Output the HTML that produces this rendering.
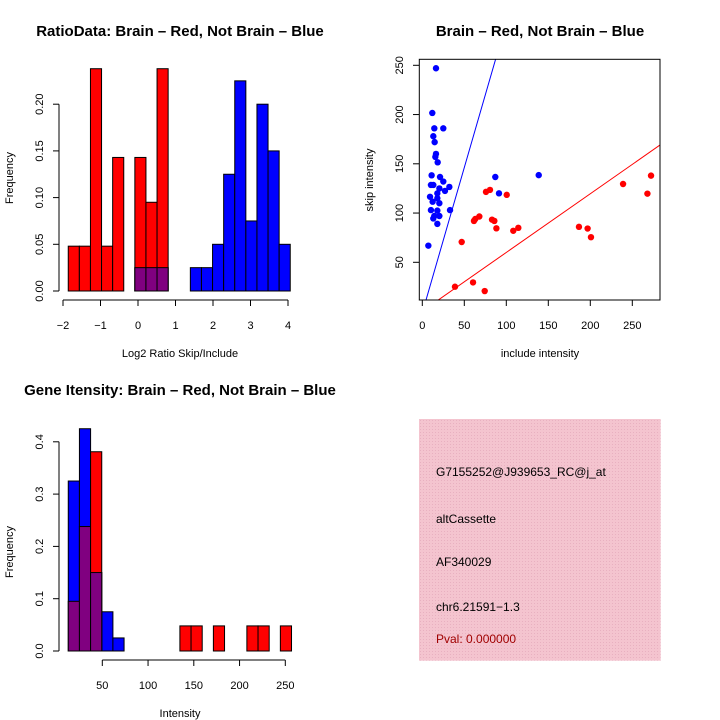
<!DOCTYPE html>
<html><head><meta charset="utf-8"><style>
body{margin:0;background:#fff}
svg{display:block;font-family:"Liberation Sans",sans-serif}
</style></head><body>
<svg id="c" width="720" height="720" xmlns="http://www.w3.org/2000/svg">
<defs><pattern id="hatch" width="3" height="3" patternUnits="userSpaceOnUse"><rect width="3" height="3" fill="#f4c4cf"/><rect width="1" height="1" fill="#e8b0c0"/></pattern></defs>
</svg>
<script>
// ---- Data: ratio histogram ----
const ratioBinStart = -1.86;
const ratioBinWidth = 0.296;
const ratioRed = [0.048,0.048,0.238,0.048,0.143,0,0.143,0.095,0.238];
const ratioBlueOffset = 6;
const ratioBlue = [0.025,0.025,0.025,0,0,0.025,0.025,0.05,0.125,0.225,0.075,0.2,0.15,0.05];
const ratioXTicks = [-2,-1,0,1,2,3,4];
const ratioYTicks = [0,0.05,0.1,0.15,0.2];
// ---- Data: intensity histogram ----
const intBinStart = 12.8;
const intBinWidth = 12.2;
const intRed = [0.095,0.238,0.381,0,0,0,0,0,0,0,0.048,0.048,0,0.048,0,0,0.048,0.048,0,0.048];
const intBlue = [0.325,0.425,0.15,0.075,0.025];
const intXTicks = [50,100,150,200,250];
const intYTicks = [0,0.1,0.2,0.3,0.4];
// ---- Data: scatter ----
const blueX = [16.3,11.9,14.3,25,13.1,14.7,16.3,15.5,18.3,11.1,21.1,25,10.3,13.1,20.3,32.2,27,17.9,9.2,17.9,12.3,20.3,10.3,17.9,33,14.3,20.3,13.1,17.9,7.2,86.9,91.3,138.6];
const blueY = [247,201.6,186,186,178,172,160,157,151.5,138.3,136.6,132,128.5,128.5,125,126.5,122.5,120,116.5,115,111.5,110,103,102.5,103,97,97,94.5,89,66.9,136.6,120,138.5];
const redX = [75.8,80.6,100.5,61.5,63.1,67.9,83,85.8,88.2,108.3,114.3,46.9,38.9,60.4,74.3,186.5,196.8,200.8,239,268,272.3];
const redY = [121.5,123.5,118.5,92,94,96.5,93.3,92,84.5,82,85,70.6,25.2,29.6,20.8,86,84.3,75.5,129.5,119.7,138];
const blueLine = [-1.3,2.95];
const redLine = [0.4,0.596];
const scXTicks = [0,50,100,150,200,250];
const scYTicks = [50,100,150,200,250];

const svg=document.getElementById('c');
const NS='http://www.w3.org/2000/svg';
function mk(tag,attrs,parent){const e=document.createElementNS(NS,tag);for(const k in attrs)e.setAttribute(k,attrs[k]);(parent||svg).appendChild(e);return e;}
function txt(s,x,y,size,opts){opts=opts||{};const e=mk('text',{x:x,y:y,'font-size':size,'text-anchor':opts.anchor||'middle',fill:opts.fill||'#000','font-weight':opts.bold?'bold':'normal'});if(opts.rot)e.setAttribute('transform','rotate(-90 '+x+' '+y+')');e.textContent=s;return e;}

// ===== Panel 1 =====
const rx=v=>63+(v+2)*37.5, ry=v=>291-v*934;
let t=txt('RatioData: Brain – Red, Not Brain – Blue',180,36,15,{bold:true});

ratioBlue.forEach((v,i)=>{if(v<=0)return;const b=ratioBinStart+(i+ratioBlueOffset)*ratioBinWidth;const r=mk('rect',{x:rx(b),y:ry(v),width:rx(b+ratioBinWidth)-rx(b),height:ry(0)-ry(v),fill:'#0000ff',stroke:'#000','stroke-width':1});

});
ratioRed.forEach((v,i)=>{if(v<=0)return;const b=ratioBinStart+i*ratioBinWidth;const bl=(i>=ratioBlueOffset)?ratioBlue[i-ratioBlueOffset]:0;
const r=mk('rect',{x:rx(b),y:ry(v),width:rx(b+ratioBinWidth)-rx(b),height:ry(0)-ry(v),fill:'#ff0000',stroke:'#000','stroke-width':1});


const m=Math.min(v,bl);if(m>0){const p=mk('rect',{x:rx(b),y:ry(m),width:rx(b+ratioBinWidth)-rx(b),height:ry(0)-ry(m),fill:'#800080',stroke:'#000','stroke-width':1});

}});
mk('line',{x1:59,y1:ry(0),x2:59,y2:ry(0.2),stroke:'#000'});
mk('line',{x1:rx(-2),y1:300,x2:rx(4),y2:300,stroke:'#000'});
ratioYTicks.forEach(v=>{mk('line',{x1:53,y1:ry(v),x2:59,y2:ry(v),stroke:'#000'});txt(v.toFixed(2),43,ry(v),11,{rot:true});});
ratioXTicks.forEach(v=>{mk('line',{x1:rx(v),y1:300,x2:rx(v),y2:306,stroke:'#000'});txt(String(v).replace('-','−'),rx(v),329,11);});
txt('Log2 Ratio Skip/Include',180,357,11);
txt('Frequency',13,178,11,{rot:true});

// ===== Panel 2 =====
const sx=v=>422.3+v*0.84, sy=v=>262.3-(v-50)*0.985;
t=txt('Brain – Red, Not Brain – Blue',540,36,15,{bold:true});

const clip=mk('clipPath',{id:'sc'});mk('rect',{x:419.3,y:59.3,width:240.7,height:240.7},clip);
const g=mk('g',{'clip-path':'url(#sc)'});
[[blueLine,'#0000ff'],[redLine,'#ff0000']].forEach(([l,c])=>{const x0=-20,x1=300;mk('line',{x1:sx(x0),y1:sy(l[0]+l[1]*x0),x2:sx(x1),y2:sy(l[0]+l[1]*x1),stroke:c,'stroke-width':1},g);});
blueX.forEach((x,i)=>{const c=mk('circle',{cx:sx(x),cy:sy(blueY[i]),r:3.2,fill:'#0000ff'},g);

});
redX.forEach((x,i)=>{const c=mk('circle',{cx:sx(x),cy:sy(redY[i]),r:3.2,fill:'#ff0000'},g);

});
mk('rect',{x:419.3,y:59.3,width:240.7,height:240.7,fill:'none',stroke:'#000'});
scXTicks.forEach(v=>{mk('line',{x1:sx(v),y1:300,x2:sx(v),y2:306,stroke:'#000'});txt(String(v),sx(v),329,11);});
scYTicks.forEach(v=>{mk('line',{x1:413,y1:sy(v),x2:419.3,y2:sy(v),stroke:'#000'});txt(String(v),403,sy(v),11,{rot:true});});
txt('include intensity',540,357,11);
txt('skip intensity',373,180,11,{rot:true});

// ===== Panel 3 =====
const ix=v=>102.3+(v-50)*0.915, iy=v=>651-v*523;
t=txt('Gene Itensity: Brain – Red, Not Brain – Blue',180,395,15,{bold:true});

intBlue.forEach((v,i)=>{if(v<=0)return;const b=intBinStart+i*intBinWidth;const r=mk('rect',{x:ix(b),y:iy(v),width:ix(b+intBinWidth)-ix(b),height:iy(0)-iy(v),fill:'#0000ff',stroke:'#000'});

});
intRed.forEach((v,i)=>{if(v<=0)return;const b=intBinStart+i*intBinWidth;const bl=intBlue[i]||0;
if(v>bl){const r=mk('rect',{x:ix(b),y:iy(v),width:ix(b+intBinWidth)-ix(b),height:iy(0)-iy(v),fill:'#ff0000',stroke:'#000'});

}
const m=Math.min(v,bl);if(m>0){const p=mk('rect',{x:ix(b),y:iy(m),width:ix(b+intBinWidth)-ix(b),height:iy(0)-iy(m),fill:'#800080',stroke:'#000'});

}});
mk('line',{x1:59,y1:iy(0),x2:59,y2:iy(0.4),stroke:'#000'});
mk('line',{x1:ix(50),y1:660,x2:ix(250),y2:660,stroke:'#000'});
intYTicks.forEach(v=>{mk('line',{x1:53,y1:iy(v),x2:59,y2:iy(v),stroke:'#000'});txt(v.toFixed(1),43,iy(v),11,{rot:true});});
intXTicks.forEach(v=>{mk('line',{x1:ix(v),y1:660,x2:ix(v),y2:666,stroke:'#000'});txt(String(v),ix(v),689,11);});
txt('Intensity',180,717,11);
txt('Frequency',13,552,11,{rot:true});

// ===== Panel 4 =====
const box=mk('rect',{x:419,y:419,width:241.7,height:241.7,fill:'url(#hatch)'});

[['G7155252@J939653_RC@j_at',476],['altCassette',523],['AF340029',566],['chr6.21591−1.3',611]].forEach(([s,y])=>{const e=txt(s,436,y,12,{anchor:'start'});});
const pv=txt('Pval: 0.000000',436,643,12,{anchor:'start',fill:'#a00000'});

</script>
</body></html>
